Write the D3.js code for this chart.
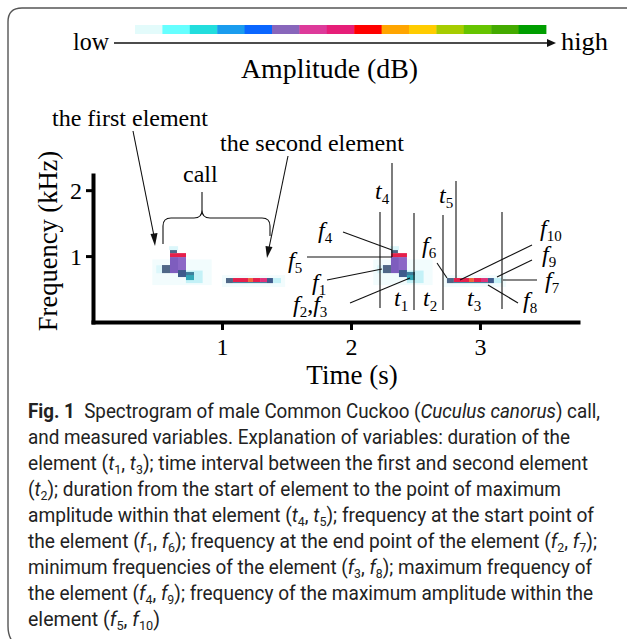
<!DOCTYPE html>
<html><head><meta charset="utf-8">
<script src="https://cdn.jsdelivr.net/npm/d3@7"></script>
<style>body{margin:0;background:#fff} text{white-space:pre}</style>
</head><body>
<svg id="c" width="627" height="639"></svg>
<script>
// ---------- data ----------
const ampLevels = ["#e3fbfb","#66ffff","#22dddd","#1a9cee","#0a66ff","#8866bb","#dd3a9a","#e61e78","#ff0000","#ffa500","#ffcc00","#a6cc00","#66c400","#44aa00","#009e00"];
const timeTicks = [1, 2, 3];
const freqTicks = [1, 2];
const cellColors = {haze:"#f2fcfd", pale:"#dcf7fb", lightcyan:"#c4f1f7", slate:"#4f6787", purple:"#7e5dbe", purple2:"#8b67c6", red:"#e61f4b", navy:"#3e5b8c", teal:"#31a8b8", tealdark:"#3c7f9b", orange:"#f0653c", pink:"#e0317a"};
// cells: [t0 (s), t1 (s), f0 (kHz), f1 (kHz), colour]
const element1Cells = [
  [0.46, 0.92, 0.56, 0.95, "haze"],
  [0.49, 0.54, 0.74, 0.86, "pale"],
  [0.72, 0.85, 0.59, 0.78, "lightcyan"],
  [0.59, 0.66, 1.09, 1.15, "pale"],
  [0.535, 0.597, 0.742, 0.864, "slate"],
  [0.597, 0.659, 0.742, 0.985, "purple"],
  [0.659, 0.721, 0.773, 0.985, "purple2"],
  [0.597, 0.721, 0.985, 1.045, "red"],
  [0.597, 0.651, 1.045, 1.091, "slate"],
  [0.659, 0.721, 0.682, 0.788, "navy"],
  [0.721, 0.783, 0.636, 0.742, "teal"],
  [0.721, 0.783, 0.712, 0.758, "tealdark"]
];
const element2Cells = [
  [1.00, 1.49, 0.53, 0.71, "haze"],
  [1.395, 1.457, 0.59, 0.667, "lightcyan"],
  [1.031, 1.085, 0.59, 0.667, "slate"],
  [1.085, 1.202, 0.606, 0.667, "red"],
  [1.202, 1.240, 0.606, 0.667, "orange"],
  [1.240, 1.295, 0.606, 0.667, "red"],
  [1.295, 1.349, 0.606, 0.667, "pink"],
  [1.349, 1.395, 0.59, 0.667, "navy"],
  [1.085, 1.349, 0.59, 0.606, "tealdark"]
];
const callOnsets = [0, 1.713];
const captionLines = [
  "**Fig. 1**  Spectrogram of male Common Cuckoo (_Cuculus canorus_) call,",
  "and measured variables. Explanation of variables: duration of the",
  "element (_t_{1}, _t_{3}); time interval between the first and second element",
  "(_t_{2}); duration from the start of element to the point of maximum",
  "amplitude within that element (_t_{4}, _t_{5}); frequency at the start point of",
  "the element (_f_{1}, _f_{6}); frequency at the end point of the element (_f_{2}, _f_{7});",
  "minimum frequencies of the element (_f_{3}, _f_{8}); maximum frequency of",
  "the element (_f_{4}, _f_{9}); frequency of the maximum amplitude within the",
  "element (_f_{5}, _f_{10})"
];
const captionWidths = [572, 542, 560, 533, 566, 569, 564, 565, 132];

// ---------- drawing ----------
const svg = d3.select("#c");
const SERIF = "'Liberation Serif','Times New Roman',serif";
const SANS = "Roboto,'Noto Sans',sans-serif";

function rich(sel, str, subSize, subDy) {
  const re = /(\*\*[^*]+\*\*|_[^_]+_|\{[^}]+\})/g;
  const parts = str.split(re).filter(s => s && s.length);
  let shifted = false;
  parts.forEach(p => {
    const ts = sel.append("tspan");
    let dy = 0;
    if (p.startsWith("{")) {
      ts.text(p.slice(1, -1)).attr("font-size", subSize).attr("font-style", "normal");
      if (!shifted) { dy = subDy; shifted = true; }
    } else {
      if (shifted) { dy = -subDy; shifted = false; }
      if (p.startsWith("**")) ts.text(p.slice(2, -2)).attr("font-weight", "bold");
      else if (p.startsWith("_")) ts.text(p.slice(1, -1)).attr("font-style", "italic");
      else ts.text(p);
    }
    if (dy) ts.attr("dy", dy);
  });
}

// frame
svg.append("path")
  .attr("d", "M640,8 L22,8 Q8,8 8,22 L8,626 Q8,639 16,645")
  .attr("fill", "none").attr("stroke", "#555").attr("stroke-width", 1.4);

// amplitude legend
const lg = d3.scaleBand().domain(d3.range(ampLevels.length)).range([135, 546]).paddingInner(0);
svg.append("g").selectAll("rect").data(ampLevels).join("rect")
  .attr("x", (d, i) => lg(i)).attr("width", lg.bandwidth() + 0.4)
  .attr("y", 25).attr("height", 9).attr("fill", d => d);
svg.append("line").attr("x1", 114).attr("x2", 548).attr("y1", 43).attr("y2", 43)
  .attr("stroke", "#111").attr("stroke-width", 1.4);
svg.append("path").attr("d", "M547,39 L556,43 L547,47 Z").attr("fill", "#111");
svg.append("text").attr("x", 73).attr("y", 50).attr("font-family", SERIF).attr("font-size", 26)
  .attr("textLength", 36).attr("lengthAdjust", "spacingAndGlyphs").text("low");
svg.append("text").attr("x", 561).attr("y", 50).attr("font-family", SERIF).attr("font-size", 26)
  .attr("textLength", 47).attr("lengthAdjust", "spacingAndGlyphs").text("high");
svg.append("text").attr("x", 241).attr("y", 78)
  .attr("font-family", SERIF).attr("font-size", 27)
  .attr("textLength", 177).attr("lengthAdjust", "spacingAndGlyphs").text("Amplitude (dB)");

// scales
const x = d3.scaleLinear().domain([0, 3.76]).range([93, 578]);
const y = d3.scaleLinear().domain([0, 2.23]).range([322, 175]);

// spectrogram cells
const g = svg.append("g");
callOnsets.forEach(off => {
  [element1Cells, element2Cells].forEach(cells => {
    g.append("g").selectAll("rect").data(cells).join("rect")
      .attr("x", d => x(d[0] + off)).attr("width", d => x(d[1] + off) - x(d[0] + off))
      .attr("y", d => y(d[3])).attr("height", d => y(d[2]) - y(d[3]))
      .attr("fill", d => cellColors[d[4]]);
  });
});

// axes
const xAxis = svg.append("g").attr("transform", "translate(0,322)")
  .call(d3.axisBottom(x).tickValues(timeTicks).tickSizeInner(8).tickSizeOuter(0).tickFormat(d3.format("d")));
const yAxis = svg.append("g").attr("transform", "translate(93,0)")
  .call(d3.axisLeft(y).tickValues(freqTicks).tickSizeInner(7).tickSizeOuter(0).tickFormat(d3.format("d")));
[xAxis, yAxis].forEach(a => {
  a.select(".domain").attr("stroke", "#000").attr("stroke-width", 4).attr("stroke-linecap", "square");
  a.selectAll(".tick line").attr("stroke", "#000").attr("stroke-width", 3);
  a.selectAll(".tick text").attr("font-family", SERIF).attr("font-size", 24).attr("fill", "#000");
});
xAxis.selectAll(".tick text").attr("y", 33).attr("dy", 0);
yAxis.selectAll(".tick text").attr("x", -11).attr("dy", "0.33em");

svg.append("text").attr("transform", "translate(57,241) rotate(-90)").attr("text-anchor", "middle")
  .attr("font-family", SERIF).attr("font-size", 26.5).text("Frequency (kHz)");
svg.append("text").attr("x", 352).attr("y", 384).attr("text-anchor", "middle")
  .attr("font-family", SERIF).attr("font-size", 27).text("Time (s)");

// annotations (left part)
const ann = svg.append("g").attr("fill", "none").attr("stroke", "#111").attr("stroke-width", 1.1);
svg.append("text").attr("x", 52).attr("y", 126).attr("font-family", SERIF).attr("font-size", 24).text("the first element");
svg.append("text").attr("x", 183).attr("y", 182).attr("font-family", SERIF).attr("font-size", 24).text("call");
svg.append("text").attr("x", 220).attr("y", 151).attr("font-family", SERIF).attr("font-size", 24).text("the second element");
ann.append("path").attr("d", "M163,244 L163,226 Q163,218 171,218 L194,218 Q202,218 202,210 L202,192 M202,210 Q202,218 210,218 L262,218 Q270,218 270,226 L270,236");
ann.append("line").attr("x1", 133).attr("y1", 131).attr("x2", 154).attr("y2", 236);
svg.append("path").attr("d", "M150.5,234 L155,246 L157.5,233 Z").attr("fill", "#111");
ann.append("line").attr("x1", 288).attr("y1", 156).attr("x2", 269).attr("y2", 248);
svg.append("path").attr("d", "M265.5,246 L267,258 L272.5,247 Z").attr("fill", "#111");

// annotations (right part): boundary lines
const vlines = [[392, 163, 257], [380, 212, 308], [414, 213, 310], [443, 215, 310], [456, 181, 278], [502, 212, 309]];
vlines.forEach(v => ann.append("line").attr("x1", v[0]).attr("x2", v[0]).attr("y1", v[1]).attr("y2", v[2]));
const leaders = [
  [343, 232, 392, 250], [307, 257, 392, 257], [327, 280, 382, 269], [350, 303, 410, 278],
  [532, 245, 460, 280], [532, 260, 497, 277], [503, 280, 537, 280], [488, 285, 518, 303], [437, 263, 447, 278]
];
leaders.forEach(l => ann.append("line").attr("x1", l[0]).attr("y1", l[1]).attr("x2", l[2]).attr("y2", l[3]));

const labels = [
  ["_t_{4}", 375, 199], ["_t_{5}", 439, 203], ["_t_{1}", 394, 306], ["_t_{2}", 423, 306], ["_t_{3}", 467, 306],
  ["_f_{4}", 318, 238], ["_f_{5}", 288, 268], ["_f_{1}", 312, 290], ["_f_{2},_f_{3}", 293, 312],
  ["_f_{10}", 540, 236], ["_f_{9}", 542, 262], ["_f_{7}", 545, 288], ["_f_{8}", 523, 308], ["_f_{6}", 422, 253]
];
labels.forEach(l => {
  const t = svg.append("text").attr("x", l[1]).attr("y", l[2]).attr("font-family", SERIF).attr("font-size", 24);
  rich(t, l[0], 15, 5);
});

// caption
captionLines.forEach((line, i) => {
  const t = svg.append("text").attr("x", 28).attr("y", 418 + i * 26).attr("font-family", SANS)
    .attr("font-size", 20).attr("fill", "#222")
    .attr("textLength", captionWidths[i]).attr("lengthAdjust", "spacingAndGlyphs");
  rich(t, line, 13, 4);
});
</script>
</body></html>
